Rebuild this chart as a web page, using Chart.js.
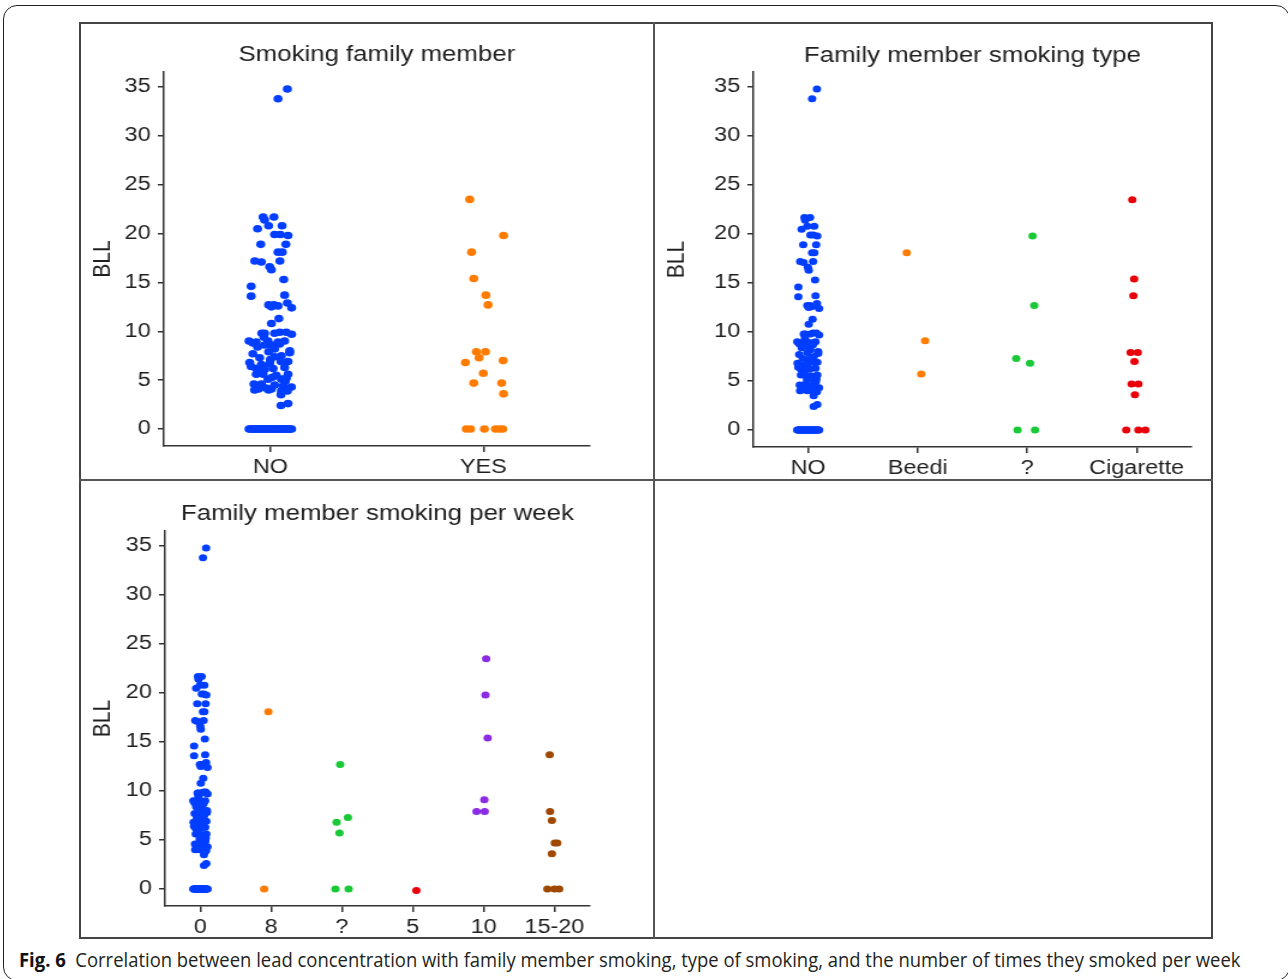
<!DOCTYPE html>
<html>
<head>
<meta charset="utf-8">
<script src="https://cdn.jsdelivr.net/npm/chart.js@4.4.1/dist/chart.umd.min.js"></script>
<style>
  body { margin: 0; width: 1288px; height: 979px; overflow: hidden; background: #fff; position: relative; }
  #outer { position: absolute; left: 3px; top: 5px; width: 1287px; height: 976px; border: 1.5px solid #222; border-radius: 14px; box-sizing: border-box; }
  #frame { position: absolute; left: 79px; top: 22px; width: 1134px; height: 917px; border: 2px solid #444; box-sizing: border-box; }
  .vline { position: absolute; left: 653px; top: 22px; width: 2px; height: 917px; background: #555; }
  .hline { position: absolute; left: 79px; top: 479px; width: 1134px; height: 2px; background: #555; }
  .panel { position: absolute; transform-origin: 0 0; transform: scaleX(1.2); }
  #caption { position: absolute; left: 19px; top: 948px; font-family: "Open Sans", sans-serif; font-size: 20px; line-height: 24px;
             color: #231f20; white-space: nowrap; transform-origin: 0 50%; }
  #caption b { color: #111; }
</style>
</head>
<body>
<div id="outer"></div>
<div id="frame"></div>
<div class="vline"></div>
<div class="hline"></div>
<div class="panel" style="left:81px;top:24px"><canvas id="member" width="477" height="455"></canvas></div>
<div class="panel" style="left:655px;top:24px"><canvas id="type" width="463" height="455"></canvas></div>
<div class="panel" style="left:81px;top:481px"><canvas id="week" width="477" height="456"></canvas></div>
<div id="caption"><b>Fig. 6</b>&nbsp; Correlation between lead concentration with family member smoking, type of smoking, and the number of times they smoked per week</div>

<script>
// categories
var memberCats = ['NO', 'YES'];
var typeCats = ['NO', 'Beedi', '?', 'Cigarette'];
var weekCats = ['0', '8', '?', '5', '10', '15-20'];
var yTicks = [0, 5, 10, 15, 20, 25, 30, 35];
var yMin = -1.74, yMax = 36.54;
var palette = ['#023eff', '#ff7c00', '#1ac938', '#e8000b', '#8b2be2', '#9f4800'];

// BLL of children with no smoking family member, and the strip jitter
var noBll = [
  34.8, 33.8, 21.7, 21.7, 21.4, 20.5, 20.8, 20.8, 19.9, 19.9,
  19.8, 18.9, 18.9, 18.1, 18.1, 17.2, 17.1, 17.2, 16.6, 16.3,
  15.3, 14.6, 13.6, 13.7, 12.9, 12.7, 12.7, 12.6, 12.5, 12.4,
  11.3, 10.8, 9.8, 9.8, 9.8, 9.9, 9.9, 9.7, 9.0, 8.9,
  9.0, 8.9, 9.0, 8.8, 8.6, 8.6, 8.7, 8.2, 7.9, 8.0,
  7.8, 7.7, 7.3, 7.5, 6.8, 6.6, 6.7, 6.9, 6.2, 6.1,
  6.2, 6.3, 5.6, 5.6, 5.5, 5.6, 5.1, 5.1, 5.2, 4.6,
  4.6, 4.5, 4.4, 4.3, 4.0, 4.1, 4.0, 4.1, 3.9, 3.9,
  3.5, 2.4, 2.6, 7.1, 6.4, 5.8, 4.9, 7.4, 9.4, 6.9,
  5.3, 4.2, 8.4, 0, 0, 0, 0, 0, 0, 0,
  0, 0, 0, 0, 0, 0, 0, 0, 0, 0,
  0, 0, 0, 0, 0, 0, 0, 0, 0, 0,
  0, 0, 0, 0, 0, 0
];
var noJitter = [
  0.08, 0.036, -0.034, 0.017, -0.027, -0.06, -0.008, 0.055, 0.02, 0.047,
  0.083, -0.045, 0.073, 0.036, 0.056, -0.073, -0.042, 0.045, -0.003, 0.005,
  0.063, -0.09, -0.09, 0.067, 0.08, -0.008, 0.017, 0.036, 0.005, 0.1,
  0.04, 0.005, -0.04, -0.027, 0.02, 0.044, 0.075, 0.1, -0.1, -0.066,
  -0.011, 0.036, 0.067, -0.082, -0.027, 0.005, 0.044, 0.02, -0.008, 0.091,
  0.091, -0.082, -0.05, 0.052, -0.097, -0.042, -0.003, 0.083, -0.066, -0.027,
  0.013, 0.067, -0.066, -0.034, 0.028, 0.083, -0.011, 0.052, 0.075, -0.077,
  -0.042, 0.02, 0.06, 0.099, -0.074, -0.055, -0.008, 0.005, 0.052, 0.08,
  0.05, 0.05, 0.083, 0.0, -0.09, -0.04, 0.07, 0.02, -0.03, 0.05,
  0.01, -0.02, -0.06, -0.1, -0.094, -0.087, -0.081, -0.075, -0.069, -0.062,
  -0.056, -0.05, -0.044, -0.037, -0.031, -0.025, -0.019, -0.012, -0.006, 0.0,
  0.006, 0.012, 0.019, 0.025, 0.031, 0.037, 0.044, 0.05, 0.056, 0.062,
  0.069, 0.075, 0.081, 0.087, 0.094, 0.1
];

var yesBll = [23.5, 19.8, 18.1, 15.4, 13.7, 12.7, 7.9, 7.9, 7.3, 6.8, 7.0, 5.7, 4.7, 4.7, 3.6, 0, 0, 0, 0, 0, 0];
var yesJitter = [-0.064, 0.095, -0.055, -0.045, 0.012, 0.022, -0.033, 0.01, -0.02, -0.084, 0.093, 0, -0.045, 0.086, 0.095, -0.08, -0.06, 0.005, 0.057, 0.077, 0.091];

var beediBll = [18.1, 9.1, 5.7];
var beediJitter = [-0.1, 0.068, 0.033];
var unknownTypeBll = [19.8, 12.7, 7.3, 6.8, 0, 0];
var unknownTypeJitter = [0.049, 0.065, -0.1, 0.026, -0.088, 0.072];
var cigaretteBll = [23.5, 15.4, 13.7, 7.9, 7.9, 7.0, 4.7, 4.7, 3.6, 0, 0, 0];
var cigaretteJitter = [-0.04, -0.023, -0.03, -0.055, 0.01, -0.02, -0.046, 0.016, -0.016, -0.095, 0.016, 0.08];

var week8Bll = [18.1, 0];
var week8Jitter = [-0.04, -0.1];
var weekUnknownBll = [12.7, 7.3, 6.8, 5.7, 0, 0];
var weekUnknownJitter = [-0.026, 0.083, -0.077, -0.036, -0.093, 0.093];
var week5Bll = [-0.15];
var week5Jitter = [0.05];
var week10Bll = [23.5, 19.8, 15.4, 9.1, 7.9, 7.9];
var week10Jitter = [0.036, 0.026, 0.057, 0.01, -0.1, 0.015];
var week1520Bll = [13.7, 7.9, 7.0, 4.7, 4.7, 3.6, 0, 0, 0];
var week1520Jitter = [-0.067, -0.062, -0.036, 0.005, 0.04, -0.036, -0.1, 0, 0.067];

var FONT = "'Liberation Sans', Arial, sans-serif";
var INK = '#1f1f1f';

function stripPlot(id, size, area, title, titleY, cats, groups, radius) {
  var ctx = document.getElementById(id);
  var titleSize = 21.5;
  new Chart(ctx, {
    type: 'scatter',
    data: {
      datasets: groups.map(function (g, i) {
        return {
          data: g[0].map(function (v, k) { return {x: i + g[1][k], y: v}; }),
          backgroundColor: palette[i],
          borderWidth: 0,
          pointRadius: radius,
          pointHoverRadius: radius
        };
      })
    },
    options: {
      responsive: false,
      animation: false,
      devicePixelRatio: 1,
      layout: {padding: {left: 0, top: 0, right: size.w - area.r, bottom: 0}},
      plugins: {
        legend: {display: false},
        tooltip: {enabled: false},
        title: {
          display: true,
          text: title,
          fullSize: false,
          color: INK,
          font: {family: FONT, size: titleSize, weight: 'normal'},
          padding: {top: titleY - titleSize * 0.6, bottom: area.t - titleY - titleSize * 0.6}
        }
      },
      scales: {
        x: {
          type: 'linear',
          min: -0.5,
          max: cats.length - 0.5,
          afterBuildTicks: function (s) { s.ticks = cats.map(function (c, i) { return {value: i}; }); },
          afterFit: function (s) { s.height = size.h - area.b; },
          ticks: {
            callback: function (v, i) { return cats[i]; },
            color: INK, font: {family: FONT, size: 19.5}, padding: 4, maxRotation: 0, autoSkip: false
          },
          grid: {drawOnChartArea: false, drawTicks: true, tickLength: 6, color: '#333', lineWidth: 1.5},
          border: {display: true, color: '#333', width: 1.5}
        },
        y: {
          min: yMin,
          max: yMax,
          afterBuildTicks: function (s) { s.ticks = yTicks.map(function (v) { return {value: v}; }); },
          afterFit: function (s) { s.width = area.l; },
          ticks: {color: INK, font: {family: FONT, size: 19.5}, padding: 6},
          grid: {drawOnChartArea: false, drawTicks: true, tickLength: 5, color: '#333', lineWidth: 1.5},
          border: {display: true, color: '#333', width: 1.5},
          title: {display: true, text: 'BLL', color: INK, font: {family: FONT, size: 21}, padding: {top: 6, bottom: 0}}
        }
      }
    }
  });
}

stripPlot('member', {w: 477, h: 455}, {l: 69, r: 424, t: 48, b: 422},
  'Smoking family member', 31, memberCats,
  [[noBll, noJitter], [yesBll, yesJitter]], 3.8);

stripPlot('type', {w: 463, h: 455}, {l: 82, r: 447, t: 48, b: 423},
  'Family member smoking type', 32, typeCats,
  [[noBll, noJitter], [beediBll, beediJitter], [unknownTypeBll, unknownTypeJitter], [cigaretteBll, cigaretteJitter]], 3.5);

stripPlot('week', {w: 477, h: 456}, {l: 70, r: 424, t: 50, b: 425},
  'Family member smoking per week', 33, weekCats,
  [[noBll, noJitter], [week8Bll, week8Jitter], [weekUnknownBll, weekUnknownJitter], [week5Bll, week5Jitter],
   [week10Bll, week10Jitter], [week1520Bll, week1520Jitter]], 3.5);

// squeeze the caption to the width it has in the figure
var cap = document.getElementById('caption');
cap.style.transform = 'scaleX(' + (1221 / cap.scrollWidth) + ')';
</script>
</body>
</html>
